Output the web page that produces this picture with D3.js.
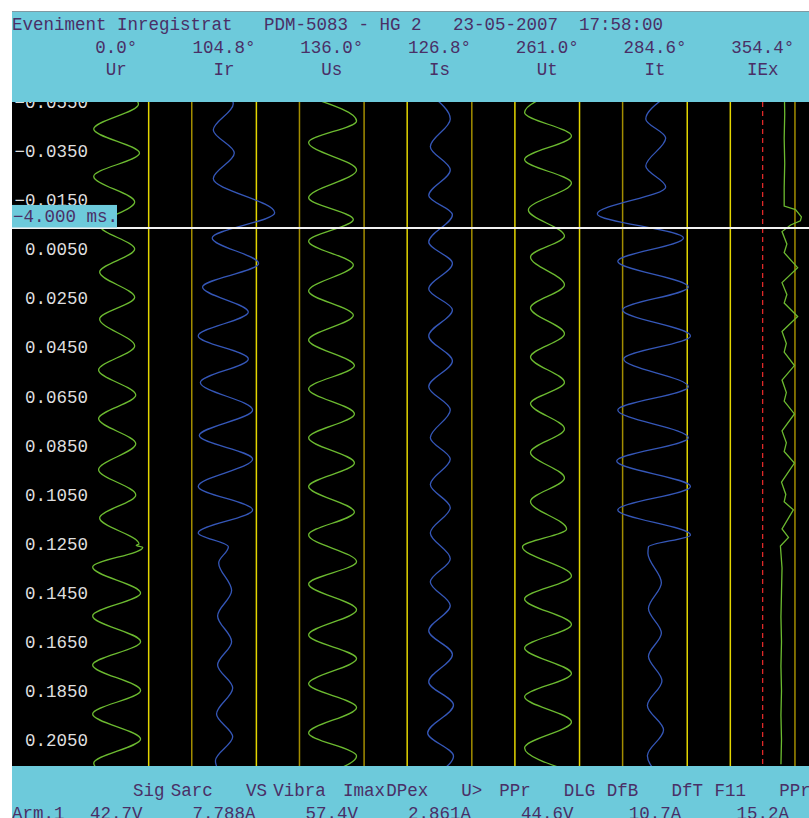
<!DOCTYPE html>
<html>
<head>
<meta charset="utf-8">
<script src="https://cdn.jsdelivr.net/npm/d3@7"></script>
<style>
  html, body { margin: 0; padding: 0; background: #fff; }
  svg text { font-family: "Liberation Mono", "DejaVu Sans Mono", monospace; white-space: pre; }
</style>
</head>
<body>
<div id="chart"></div>
<script>
// ---- data ----
const headerLine = "Eveniment Inregistrat   PDM-5083 - HG 2   23-05-2007  17:58:00";
const channelNames = ["Ur", "Ir", "Us", "Is", "Ut", "It", "IEx"];
const phaseAngles = [0.0, 104.8, 136.0, 126.8, 261.0, 284.6, 354.4];
const channelValues = ["42.7V", "7.788A", "57.4V", "2.861A", "44.6V", "10.7A", "15.2A"];
const channelKinds = ["U", "I", "U", "I", "U", "I", "U"]; // U = green trace, I = blue trace
const armLabel = "Arm.1";

const digitalNames = ["Sig", "Sarc", "VS", "Vibra", "Imax", "DPex", "U>", "PPr", "DLG", "DfB", "DfT", "F11", "PPr"];
const digitalStates = [1, 0, 1, 0, 0, 1, 0, 1, 1, 0, 1, 1, 0];

const timeTicks = [-0.055, -0.035, -0.015, 0.005, 0.025, 0.045, 0.065, 0.085, 0.105, 0.125, 0.145, 0.165, 0.185, 0.205];
const cursorTime = -0.004;

// traces: [time in ms, value relative to half lane width]
const urTrace = [[-64, -0.42], [-54, 0.41], [-43.9, -0.42], [-34.1, 0.43], [-24.6, -0.42], [-14.2, 0.34], [-4.4, -0.3],
  [5.0, 0.34], [14.4, -0.31], [24.7, 0.34], [33.5, -0.31], [44.5, 0.34], [54.3, -0.33], [64.5, 0.36], [74.1, -0.33],
  [84.4, 0.36], [94.9, -0.33], [105.2, 0.36], [114.6, -0.31], [125.2, 0.42], [125.8, 0.37], [126.6, 0.49],
  [134.6, -0.44], [145.2, 0.45], [154.5, -0.44], [165.0, 0.45], [174.5, -0.44], [184.9, 0.45], [194.5, -0.44],
  [204.7, 0.45], [214.5, -0.42], [224, 0.45]];
const irTrace = [[-64, -0.2], [-54.1, 0.17], [-43.5, -0.2], [-34.1, 0.19], [-23.7, -0.2], [-9.8, 0.94], [0.5, -0.22],
  [10.9, 0.64], [20.5, -0.40], [30.7, 0.45], [40.4, -0.48], [49.8, 0.45], [59.4, -0.44], [70.6, 0.53], [81.0, -0.46],
  [90.6, 0.53], [101.8, -0.48], [111.3, 0.53], [120.7, -0.48], [126.4, 0.08], [132.9, -0.10], [144.2, 0.14],
  [154.5, -0.12], [165.0, 0.14], [174.5, -0.12], [183.9, 0.16], [194.5, -0.14], [203.8, 0.16], [213.5, -0.16], [224, 0.16]];
const usTrace = [[-57, -0.43], [-47.2, 0.46], [-38.4, -0.43], [-27.2, 0.46], [-15.9, -0.43], [-7.0, 0.40], [1.8, -0.43],
  [11.5, 0.40], [22.1, -0.43], [32.0, 0.40], [42.1, -0.43], [52.5, 0.42], [62.0, -0.43], [72.2, 0.42], [81.9, -0.43],
  [92.2, 0.42], [101.8, -0.43], [112.2, 0.42], [121.5, -0.43], [132.4, 0.46], [141.5, -0.43], [152.0, 0.46],
  [162.3, -0.43], [171.9, 0.46], [182.2, -0.43], [191.8, 0.46], [202.2, -0.43], [211.6, 0.46], [221, -0.43]];
const isTrace = [[-58, -0.17], [-48.0, 0.20], [-36.7, -0.17], [-27.2, 0.20], [-16.8, -0.20], [-9.0, 0.24], [2.1, -0.20],
  [10.9, 0.24], [21.3, -0.20], [29.8, 0.24], [40.4, -0.20], [50.6, 0.24], [61.1, -0.20], [70.6, 0.20], [81.9, -0.17],
  [90.6, 0.20], [101.0, -0.17], [110.4, 0.20], [120.7, -0.17], [131.2, 0.20], [140.7, -0.17], [150.3, 0.20],
  [160.6, -0.20], [170.2, 0.24], [181.4, -0.20], [190.8, 0.26], [202.2, -0.22], [211.6, 0.26], [221, -0.22]];
const utTrace = [[-61, 0.45], [-50.6, -0.42], [-41.1, 0.45], [-31.5, -0.42], [-21.9, 0.45], [-10.9, -0.35], [-0.3, 0.32],
  [8.2, -0.31], [19.6, 0.32], [29.0, -0.31], [39.5, 0.32], [49.0, -0.31], [59.4, 0.32], [68.0, -0.31], [78.3, 0.32],
  [87.9, -0.31], [98.3, 0.32], [107.9, -0.31], [119.1, 0.36], [126.4, -0.46], [138.2, 0.45], [147.6, -0.42],
  [158.0, 0.45], [167.6, -0.42], [178.0, 0.45], [187.5, -0.42], [197.7, 0.45], [208.3, -0.42], [218, 0.45]];
const itTrace = [[-57, 0.20], [-48.0, -0.17], [-40.2, 0.20], [-28.8, -0.17], [-20.3, 0.20], [-9.3, -1.07], [0.5, 0.53],
  [10.0, -0.69], [20.5, 0.62], [29.8, -0.60], [40.4, 0.66], [49.8, -0.58], [61.1, 0.62], [70.6, -0.69], [81.9, 0.62],
  [91.4, -0.71], [101.8, 0.66], [111.3, -0.69], [121.5, 0.66], [126.4, -0.12], [129, -0.13], [141, 0.12],
  [151.5, -0.12], [161.5, 0.12], [171, -0.12], [181, 0.13], [191, -0.14], [201, 0.16], [211.5, -0.14], [221, 0.16]];
const iexTrace = [[-64, 0.40], [-50, 0.41], [-40, 0.40], [-30, 0.41], [-20, 0.40], [-12.5, 0.40], [-11.1, 0.61], [-8.1, 0.72],
  [-6.5, 0.70], [-4.8, 0.52], [-2.1, 0.36], [3, 0.45], [6.5, 0.40], [12.6, 0.65], [18.7, 0.36], [23.5, 0.45], [27, 0.40],
  [32.5, 0.65], [38.6, 0.36], [43.5, 0.44], [47, 0.40], [52.5, 0.59], [58.4, 0.36], [63.5, 0.44], [67, 0.40], [72.2, 0.59],
  [79.1, 0.36], [84, 0.44], [87.5, 0.40], [92.2, 0.59], [100.0, 0.35], [105, 0.43], [108, 0.40], [111.3, 0.57],
  [119.1, 0.36], [122.5, 0.48], [126, 0.33], [135, 0.36], [145, 0.35], [155, 0.34], [165, 0.35], [175, 0.34],
  [185, 0.35], [195, 0.34], [205, 0.35], [215, 0.34]];

const traces = [urTrace, irTrace, usTrace, isTrace, utTrace, itTrace, iexTrace];

// ---- layout ----
const W = 809, H = 818;
const plot = { left: 12, top: 102, right: 809, bottom: 766 };
const headerTop = 11.5;
const cyan = "#6dcadb";
const ink = "#4a2f66";
const traceColor = { U: "#6cba30", I: "#3557b8" };
const fontSize = 17.5;

const svg = d3.select("#chart").append("svg")
  .attr("width", W)
  .attr("height", H);

svg.append("rect")
  .attr("x", plot.left).attr("y", plot.top)
  .attr("width", plot.right - plot.left).attr("height", plot.bottom - plot.top)
  .attr("fill", "#000");

// scales
const y = d3.scaleLinear()
  .domain([-0.055, 0.205])
  .range([101.8, 739.8]);

const lane = d3.scaleBand()
  .domain(channelNames)
  .range([62.5, 816.5]);
const half = lane.bandwidth() / 2;
const amp = d3.scaleLinear().domain([-1, 1]).range([-half, half]);
const center = name => lane(name) + half;

// time labels
svg.append("g")
  .selectAll("text")
  .data(timeTicks)
  .join("text")
  .attr("x", 88)
  .attr("y", d => y(d))
  .attr("dy", "0.36em")
  .attr("text-anchor", "end")
  .attr("font-size", fontSize)
  .attr("fill", "#dedede")
  .text(d => d3.format(".4f")(d));

// clip for everything inside the plot
svg.append("clipPath").attr("id", "plotClip")
  .append("rect")
  .attr("x", plot.left).attr("y", plot.top)
  .attr("width", plot.right - plot.left).attr("height", plot.bottom - plot.top);

const inner = svg.append("g").attr("clip-path", "url(#plotClip)");

// digital channel lines: each sits at +/- level around a lane centre
const digitalLevel = 0.6;
const digitalX = i => {
  const ch = Math.floor((i + 1) / 2);
  const side = (i + 1) % 2 === 0 ? -1 : 1;
  return center(channelNames[ch]) + amp(side * digitalLevel);
};

inner.append("g")
  .selectAll("line")
  .data(digitalNames)
  .join("line")
  .attr("x1", (d, i) => digitalX(i)).attr("x2", (d, i) => digitalX(i))
  .attr("y1", plot.top).attr("y2", plot.bottom)
  .attr("stroke", (d, i) => digitalStates[i] ? "#e3d500" : "#a38d00")
  .attr("stroke-width", 1.5);

// IEx zero line
inner.append("line")
  .attr("x1", center("IEx")).attr("x2", center("IEx"))
  .attr("y1", plot.top).attr("y2", plot.bottom)
  .attr("stroke", "#e02828")
  .attr("stroke-width", 1.3)
  .attr("stroke-dasharray", "5,4");

// analog traces, time running downwards
traces.forEach((tr, i) => {
  const name = channelNames[i];
  const line = d3.line()
    .x(d => center(name) + amp(d[1]))
    .y(d => y(d[0] / 1000))
    .curve(name === "IEx" ? d3.curveLinear : d3.curveMonotoneY);
  inner.append("path")
    .datum(tr)
    .attr("d", line)
    .attr("fill", "none")
    .attr("stroke", traceColor[channelKinds[i]])
    .attr("stroke-width", 1.3);
});

// cursor
inner.append("line")
  .attr("x1", plot.left).attr("x2", plot.right)
  .attr("y1", y(cursorTime) + 1).attr("y2", y(cursorTime) + 1)
  .attr("stroke", "#f2f2f2")
  .attr("stroke-width", 2);

svg.append("rect")
  .attr("x", plot.left).attr("y", y(cursorTime) - 22)
  .attr("width", 105).attr("height", 22.5)
  .attr("fill", cyan);
svg.append("text")
  .attr("x", plot.left + 1).attr("y", y(cursorTime) - 5)
  .attr("font-size", fontSize)
  .attr("fill", ink)
  .text(d3.format(".3f")(cursorTime * 1000) + " ms.");

// header
svg.append("rect")
  .attr("x", plot.left).attr("y", headerTop)
  .attr("width", W - plot.left).attr("height", plot.top - headerTop)
  .attr("fill", cyan);
svg.append("line")
  .attr("x1", plot.left).attr("x2", W)
  .attr("y1", headerTop).attr("y2", headerTop)
  .attr("stroke", "#7f9aa3").attr("stroke-width", 1);

svg.append("text")
  .attr("x", plot.left).attr("y", 30)
  .attr("font-size", fontSize)
  .attr("fill", ink)
  .text(headerLine);

svg.append("g")
  .selectAll("text")
  .data(phaseAngles)
  .join("text")
  .attr("x", (d, i) => center(channelNames[i]))
  .attr("y", 53)
  .attr("text-anchor", "middle")
  .attr("font-size", fontSize)
  .attr("fill", ink)
  .text(d => d3.format(".1f")(d) + "°");

svg.append("g")
  .selectAll("text")
  .data(channelNames)
  .join("text")
  .attr("x", d => center(d))
  .attr("y", 75)
  .attr("text-anchor", "middle")
  .attr("font-size", fontSize)
  .attr("fill", ink)
  .text(d => d);

// footer
svg.append("rect")
  .attr("x", plot.left).attr("y", plot.bottom)
  .attr("width", W - plot.left).attr("height", H - plot.bottom)
  .attr("fill", cyan);

svg.append("g")
  .selectAll("text")
  .data(digitalNames)
  .join("text")
  .attr("x", (d, i) => digitalX(i))
  .attr("y", 796)
  .attr("text-anchor", "middle")
  .attr("font-size", fontSize)
  .attr("fill", ink)
  .text(d => d);

svg.append("text")
  .attr("x", plot.left).attr("y", 819)
  .attr("font-size", fontSize)
  .attr("fill", ink)
  .text(armLabel);

svg.append("g")
  .selectAll("text")
  .data(channelValues)
  .join("text")
  .attr("x", (d, i) => center(channelNames[i]))
  .attr("y", 819)
  .attr("text-anchor", "middle")
  .attr("font-size", fontSize)
  .attr("fill", ink)
  .text(d => d);
</script>
</body>
</html>
